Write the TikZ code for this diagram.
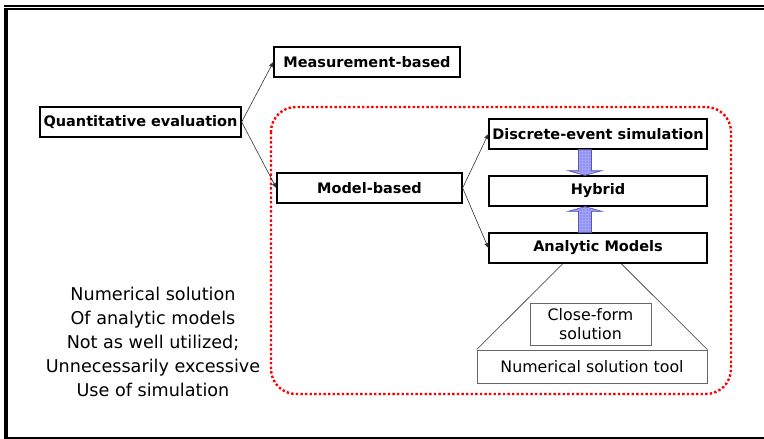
\documentclass[tikz,border=0pt]{standalone}
\usepackage{fontspec}
\setmainfont{DejaVu Sans}
\usetikzlibrary{arrows.meta, calc, patterns}
\definecolor{cRed}{HTML}{FF0000}
\definecolor{cArrow}{HTML}{9090F0}
\definecolor{cGrid}{HTML}{A4A4F6}
\definecolor{cEdge}{HTML}{5A5AB0}

\begin{document}
\begin{tikzpicture}[x=1pt, y=-1pt,
  box/.style={rectangle, draw, line width=1.3pt, minimum height=30pt, inner sep=0pt,
              font=\fontsize{14.5}{18}\selectfont\bfseries},
  graybox/.style={rectangle, draw=black!60, line width=0.8pt, inner sep=0pt, align=center,
                  font=\fontsize{15.8}{19}\selectfont},
  arr/.style={-{Triangle[length=5pt, width=4pt]}, line width=0.6pt, draw=black!80},
  blockarrow/.style={draw=cEdge, line width=0.7pt, preaction={fill=cArrow},
                     pattern=grid, pattern color=cGrid},
  redframe/.style={draw=cRed, line width=2.4pt, dash pattern=on 2.4pt off 2.2pt,
                   rounded corners=25pt},
  note/.style={align=center, font=\fontsize{17.6}{24}\selectfont},
]
\useasboundingbox (0,0) rectangle (764,439);

% ---- page frame ----
\draw[line width=1.7pt] (4,5.8) -- (764,5.8);
\draw[line width=2pt] (4,8.7) -- (764,8.7);
\draw[line width=4pt] (6,7.7) -- (6,439);
\draw[line width=2.6pt] (4,438) -- (764,438);

% ---- model-based region ----
\draw[redframe] (271,107) rectangle (731,394);

% ---- left branch ----
\node[box, minimum width=201pt] (qe) at (140.5,122) {Quantitative evaluation};
\node[box, minimum width=186pt] (meas) at (367,62) {Measurement-based};
\node[box, minimum width=185pt] (model) at (369.5,188) {Model-based};
\draw[arr] (qe.east) -- (meas.west);
\draw[arr] (qe.east) -- (model.west);

% ---- model types ----
\node[box, minimum width=218pt] (des) at (598,134) {Discrete-event simulation};
\node[box, minimum width=218pt] (hyb) at (598,191) {Hybrid};
\node[box, minimum width=218pt] (ana) at (598,248) {Analytic Models};
\draw[arr] (model.east) -- (des.west);
\draw[arr] (model.east) -- (ana.west);

% block arrows into hybrid
\coordinate (dn) at ($(des.south)+(-13,0)$);
\coordinate (up) at ($(ana.north)+(-13,0)$);
\draw[blockarrow] ($(dn)+(-6.5,0)$) -- ($(dn)+(-6.5,21)$) -- ($(dn)+(-17,21)$)
  -- (dn |- hyb.north) -- ($(dn)+(17,21)$) -- ($(dn)+(6.5,21)$) -- ($(dn)+(6.5,0)$) -- cycle;
\draw[blockarrow] ($(up)+(-6.5,0)$) -- ($(up)+(-6.5,-21)$) -- ($(up)+(-17,-21)$)
  -- (up |- hyb.south) -- ($(up)+(17,-21)$) -- ($(up)+(6.5,-21)$) -- ($(up)+(6.5,0)$) -- cycle;

% ---- solution of analytic models ----
\node[graybox, minimum width=121pt, minimum height=42pt] (cf) at (590.5,324) {Close-form\\solution};
\node[graybox, minimum width=230pt, minimum height=33pt] (nst) at (592,366.5) {Numerical solution tool};
\draw[line width=0.6pt, draw=black!80] ($(ana.south west)!0.34!(ana.south east)$) -- (nst.north west);
\draw[line width=0.6pt, draw=black!80] ($(ana.south west)!0.606!(ana.south east)$) -- (nst.north east);

% ---- remark ----
\node[note] (rem) at (153,342) {Numerical solution\\Of analytic models\\Not as well utilized;\\Unnecessarily excessive\\Use of simulation};

\end{tikzpicture}
\end{document}
